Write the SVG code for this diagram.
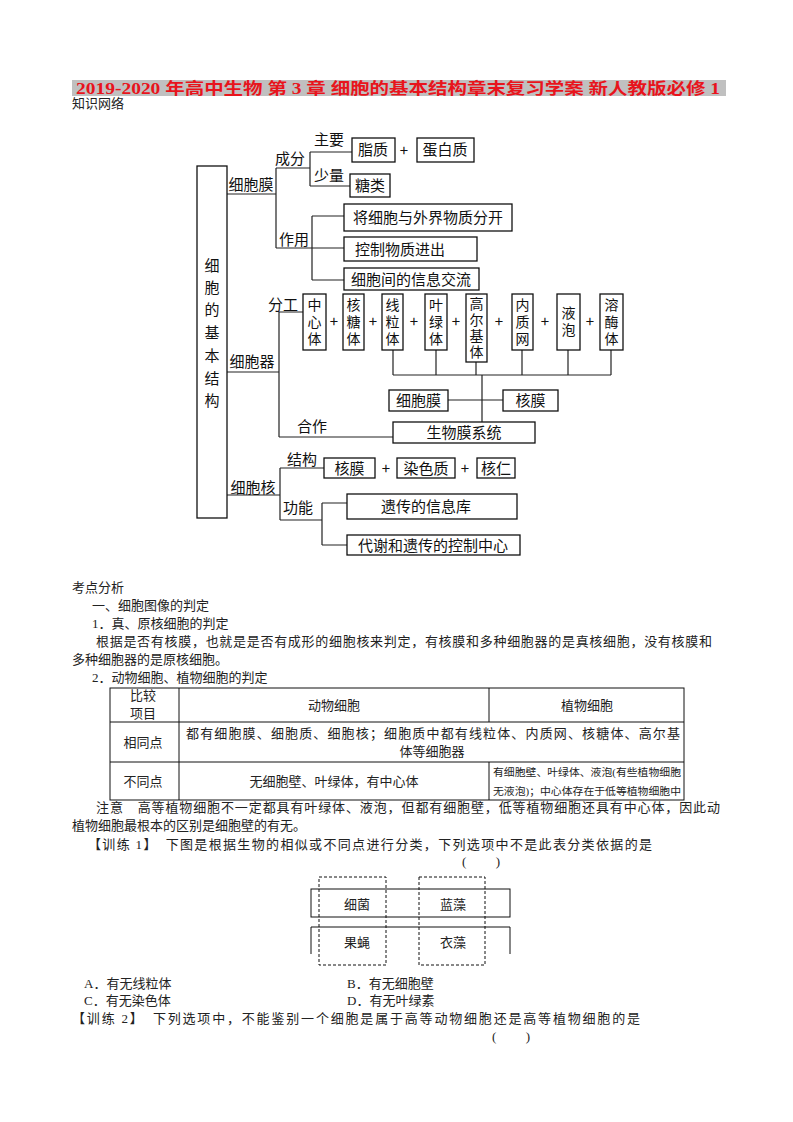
<svg xmlns="http://www.w3.org/2000/svg" width="793" height="1122" viewBox="0 0 793 1122">
<style>
.t{font-family:"Liberation Serif","Noto Sans CJK SC",serif;font-size:13px;fill:#222}
.s{font-size:10.5px}
.d{font-family:"Noto Sans CJK SC",sans-serif;font-size:15px;fill:#111}
.v{font-size:14px}
.c{text-anchor:middle}
.b{fill:#fff;stroke:#111;stroke-width:1.3}
.ln{fill:none;stroke:#222;stroke-width:1.2}
.tb{fill:none;stroke:#111;stroke-width:1}
.ds{fill:none;stroke:#111;stroke-width:1;stroke-dasharray:3 2}
</style>
<rect width="793" height="1122" fill="#fff"/>
<rect x="72" y="80" width="654" height="16" fill="#c0c0c0"/>
<text x="398" y="94" text-anchor="middle" textLength="644" lengthAdjust="spacingAndGlyphs" font-family="Liberation Serif,Noto Sans CJK SC,serif" font-size="16" font-weight="bold" fill="#e8141c">2019-2020 年高中生物 第 3 章 细胞的基本结构章末复习学案 新人教版必修 1</text>
<text class="t" x="72" y="108">知识网络</text>

<g id="connectors">
<path class="ln" d="M227 194H276M276 168V248M276 168H310M310 152V186M310 152H352M310 186H350M276 248H344M312 216V280M312 216H344M312 280H344"/>
<path class="ln" d="M227 372H279M279 312V437M279 312H303M279 437H393M393 350V375M436 350V375M476 362V375M522 350V375M568 350V375M611 350V375M393 375H611M482 375V422M448 400H503"/>
<path class="ln" d="M227 495H280M280 468V520M280 468H324M280 520H322M322 503V545M322 503H347M322 545H347"/>
</g>

<g id="root"><rect class="b" x="197" y="166" width="30" height="352"/>
<text class="d c" x="212"><tspan x="212" y="271">细</tspan><tspan x="212" y="293">胞</tspan><tspan x="212" y="315">的</tspan><tspan x="212" y="338">基</tspan><tspan x="212" y="361">本</tspan><tspan x="212" y="384">结</tspan><tspan x="212" y="406">构</tspan></text></g>

<g id="labels">
<text class="d c" x="251" y="190">细胞膜</text>
<text class="d c" x="290" y="164">成分</text>
<text class="d c" x="329" y="145">主要</text>
<text class="d c" x="329" y="181">少量</text>
<text class="d c" x="294" y="245">作用</text>
<text class="d c" x="283" y="310">分工</text>
<text class="d c" x="252" y="367">细胞器</text>
<text class="d c" x="312" y="432">合作</text>
<text class="d c" x="253" y="493">细胞核</text>
<text class="d c" x="302" y="465">结构</text>
<text class="d c" x="298" y="513">功能</text>
</g>

<g id="n-lipid"><rect class="b" x="352" y="138" width="43" height="24"/><text class="d c" x="373" y="155">脂质</text></g>
<text class="d c" x="404" y="156">+</text>
<g id="n-protein"><rect class="b" x="417" y="138" width="57" height="24"/><text class="d c" x="445" y="155">蛋白质</text></g>
<g id="n-sugar"><rect class="b" x="350" y="174" width="40" height="23"/><text class="d c" x="370" y="191">糖类</text></g>
<g id="n-f1"><rect class="b" x="344" y="204" width="168" height="27"/><text class="d c" x="428" y="223">将细胞与外界物质分开</text></g>
<g id="n-f2"><rect class="b" x="344" y="237" width="133" height="24"/><text class="d c" x="400" y="255">控制物质进出</text></g>
<g id="n-f3"><rect class="b" x="344" y="268" width="135" height="22"/><text class="d c" x="411" y="285">细胞间的信息交流</text></g>

<g id="n-o1"><rect class="b" x="303" y="294" width="23" height="56"/><text class="d v c" x="314.5"><tspan x="314.5" y="310">中</tspan><tspan x="314.5" y="327">心</tspan><tspan x="314.5" y="344">体</tspan></text></g>
<g id="n-o2"><rect class="b" x="343" y="294" width="21" height="56"/><text class="d v c" x="353.5"><tspan x="353.5" y="310">核</tspan><tspan x="353.5" y="327">糖</tspan><tspan x="353.5" y="344">体</tspan></text></g>
<g id="n-o3"><rect class="b" x="382" y="294" width="21" height="56"/><text class="d v c" x="392.5"><tspan x="392.5" y="310">线</tspan><tspan x="392.5" y="327">粒</tspan><tspan x="392.5" y="344">体</tspan></text></g>
<g id="n-o4"><rect class="b" x="425" y="294" width="22" height="56"/><text class="d v c" x="436"><tspan x="436" y="310">叶</tspan><tspan x="436" y="327">绿</tspan><tspan x="436" y="344">体</tspan></text></g>
<g id="n-o5"><rect class="b" x="466" y="294" width="21" height="68"/><text class="d v c" x="476.5"><tspan x="476.5" y="309">高</tspan><tspan x="476.5" y="325">尔</tspan><tspan x="476.5" y="341">基</tspan><tspan x="476.5" y="357">体</tspan></text></g>
<g id="n-o6"><rect class="b" x="512" y="294" width="21" height="56"/><text class="d v c" x="522.5"><tspan x="522.5" y="310">内</tspan><tspan x="522.5" y="327">质</tspan><tspan x="522.5" y="344">网</tspan></text></g>
<g id="n-o7"><rect class="b" x="557" y="294" width="23" height="56"/><text class="d v c" x="568.5"><tspan x="568.5" y="318">液</tspan><tspan x="568.5" y="335">泡</tspan></text></g>
<g id="n-o8"><rect class="b" x="600" y="294" width="23" height="56"/><text class="d v c" x="611.5"><tspan x="611.5" y="310">溶</tspan><tspan x="611.5" y="327">酶</tspan><tspan x="611.5" y="344">体</tspan></text></g>
<g id="plus-o" class="d c">
<text x="334" y="327">+</text><text x="373" y="327">+</text><text x="414" y="327">+</text><text x="456" y="327">+</text><text x="499" y="327">+</text><text x="545" y="327">+</text><text x="590" y="327">+</text>
</g>
<g id="n-cm"><rect class="b" x="389" y="390" width="59" height="21"/><text class="d c" x="418.5" y="406">细胞膜</text></g>
<g id="n-nm"><rect class="b" x="503" y="390" width="55" height="21"/><text class="d c" x="530.5" y="406">核膜</text></g>
<g id="n-bms"><rect class="b" x="393" y="422" width="142" height="21"/><text class="d c" x="464" y="438">生物膜系统</text></g>

<g id="n-nm2"><rect class="b" x="324" y="458" width="51" height="20"/><text class="d c" x="349.5" y="474">核膜</text></g>
<text class="d c" x="386" y="474">+</text>
<g id="n-chr"><rect class="b" x="397" y="458" width="58" height="20"/><text class="d c" x="426" y="474">染色质</text></g>
<text class="d c" x="465" y="474">+</text>
<g id="n-nuc"><rect class="b" x="477" y="458" width="38" height="20"/><text class="d c" x="496" y="474">核仁</text></g>
<g id="n-lib"><rect class="b" x="347" y="494" width="170" height="25"/><text class="d c" x="426" y="512">遗传的信息库</text></g>
<g id="n-ctl"><rect class="b" x="347" y="535" width="173" height="20"/><text class="d c" x="433" y="551">代谢和遗传的控制中心</text></g>

<g id="body">
<text class="t" x="72" y="592">考点分析</text>
<text class="t" x="92" y="610">一、细胞图像的判定</text>
<text class="t" x="92" y="628">1．真、原核细胞的判定</text>
<text class="t" x="96" y="646" textLength="616" lengthAdjust="spacing">根据是否有核膜，也就是是否有成形的细胞核来判定，有核膜和多种细胞器的是真核细胞，没有核膜和</text>
<text class="t" x="72" y="664">多种细胞器的是原核细胞。</text>
<text class="t" x="92" y="682">2．动物细胞、植物细胞的判定</text>
</g>

<g id="table">
<rect class="tb" x="110" y="688" width="574" height="112"/>
<path class="tb" d="M110 722H684M110 762H684M179 688V800M489 688V722M489 762V800"/>
<text class="t c" x="143" y="700">比较</text>
<text class="t c" x="143" y="718">项目</text>
<text class="t c" x="334" y="710">动物细胞</text>
<text class="t c" x="587" y="710">植物细胞</text>
<text class="t c" x="143" y="747">相同点</text>
<text class="t" x="186" y="738" textLength="494" lengthAdjust="spacing">都有细胞膜、细胞质、细胞核；细胞质中都有线粒体、内质网、核糖体、高尔基</text>
<text class="t c" x="432" y="756">体等细胞器</text>
<text class="t c" x="143" y="786">不同点</text>
<text class="t c" x="334" y="786">无细胞壁、叶绿体，有中心体</text>
<text class="t s" x="493" y="776" textLength="188" lengthAdjust="spacingAndGlyphs">有细胞壁、叶绿体、液泡(有些植物细胞</text>
<text class="t s" x="493" y="795" textLength="188" lengthAdjust="spacingAndGlyphs">无液泡)；中心体存在于低等植物细胞中</text>
</g>

<g id="body2">
<text class="t" x="96" y="812" textLength="624" lengthAdjust="spacing">注意　高等植物细胞不一定都具有叶绿体、液泡，但都有细胞壁，低等植物细胞还具有中心体，因此动</text>
<text class="t" x="72" y="830">植物细胞最根本的区别是细胞壁的有无。</text>
<text class="t" x="88" y="849" textLength="564" lengthAdjust="spacing">【训练 1】　下图是根据生物的相似或不同点进行分类，下列选项中不是此表分类依据的是</text>
<text class="t" x="462" y="866" textLength="38" lengthAdjust="spacing">(　　)</text>
</g>

<g id="figure">
<rect class="tb" x="311" y="889" width="199" height="28"/>
<path class="tb" d="M311 954V927H510V954"/>
<rect class="ds" x="319" y="877" width="67" height="88"/>
<rect class="ds" x="419" y="877" width="66" height="88"/>
<text class="t c" x="357" y="909">细菌</text>
<text class="t c" x="453" y="909">蓝藻</text>
<text class="t c" x="357" y="947">果蝇</text>
<text class="t c" x="453" y="947">衣藻</text>
</g>

<g id="options">
<text class="t" x="84" y="988">A．有无线粒体</text>
<text class="t" x="347" y="988">B．有无细胞壁</text>
<text class="t" x="84" y="1005">C．有无染色体</text>
<text class="t" x="347" y="1005">D．有无叶绿素</text>
<text class="t" x="72" y="1023" textLength="568" lengthAdjust="spacing">【训练 2】　下列选项中，不能鉴别一个细胞是属于高等动物细胞还是高等植物细胞的是</text>
<text class="t" x="492" y="1041" textLength="38" lengthAdjust="spacing">(　　)</text>
</g>
</svg>
